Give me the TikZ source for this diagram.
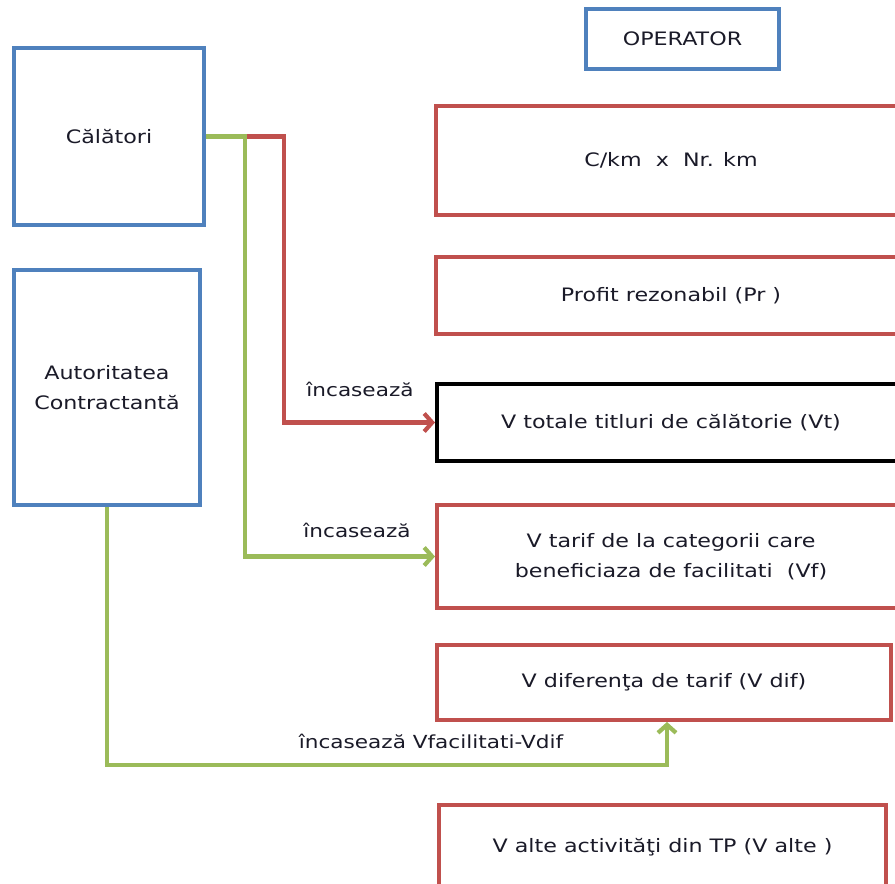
\documentclass[tikz,border=0pt]{standalone}
\usepackage{fontspec}
\setmainfont[FakeStretch=1.2]{DejaVu Sans}
\usetikzlibrary{arrows.meta}
\definecolor{oblue}{HTML}{4F81BD}
\definecolor{ored}{HTML}{C0504D}
\definecolor{ogreen}{HTML}{9BBB59}
\definecolor{otext}{HTML}{1A1A28}
\tikzset{
  box/.style={draw, line width=4pt, align=center, text=otext, font=\fontsize{18.5}{30.5}\selectfont, inner sep=0pt},
  bluebox/.style={box, draw=oblue},
  redbox/.style={box, draw=ored},
  blackbox/.style={box, draw=black},
  conn/.style={line width=4.2pt, line join=miter, -{Straight Barb[length=8pt,width=18pt,line width=4.2pt]}},
  lbl/.style={text=otext, font=\fontsize{18}{22}\selectfont, inner sep=0pt}
}
\begin{document}
\begin{tikzpicture}[x=1pt,y=-1pt]
\useasboundingbox (0,0) rectangle (895,884);
\clip (0,0) rectangle (895,884);
\fill[white] (0,0) rectangle (895,884);
% nodes
\node[bluebox, minimum width=193pt, minimum height=60pt] (op) at (682.5,39) {OPERATOR};
\node[bluebox, minimum width=190pt, minimum height=177pt] (cal) at (109,136.5) {Călători};
\node[bluebox, minimum width=186pt, minimum height=235pt] (aut) at (107,387.5) {Autoritatea\\Contractantă};
\node[redbox, minimum width=470pt, minimum height=109pt] (ckm) at (671,160.5) {C/km\ \ x\ \ Nr. km};
\node[redbox, minimum width=470pt, minimum height=77pt] (pr) at (671,295.5) {Profit rezonabil (Pr )};
\node[blackbox, minimum width=468pt, minimum height=77pt] (vt) at (671,422.5) {V totale titluri de călătorie (Vt)};
\node[redbox, minimum width=468pt, minimum height=103pt] (vf) at (671,556.5) {V tarif de la categorii care\\beneficiaza de facilitati\ \ (Vf)};
\node[redbox, minimum width=454pt, minimum height=75pt] (vdif) at (664,682.5) {V diferenţa de tarif (V dif)};
\node[redbox, minimum width=447pt, minimum height=85pt] (valte) at (662.5,847) {V alte activităţi din TP (V alte )};
% connectors
\draw[conn, ored] (cal.east) -- ++(78,0) |- (vt.west);
\draw[conn, ogreen] (cal.east) -- ++(39,0) |- (vf.west);
\draw[conn, ogreen] (aut.south) -- ++(0,258) -| ([xshift=3pt]vdif.south);
% labels
\node[lbl] (l1) at (360,389) {încasează};
\node[lbl] (l2) at (357,530) {încasează};
\node[lbl] (l3) at (431,741) {încasează Vfacilitati-Vdif};
\end{tikzpicture}
\end{document}
